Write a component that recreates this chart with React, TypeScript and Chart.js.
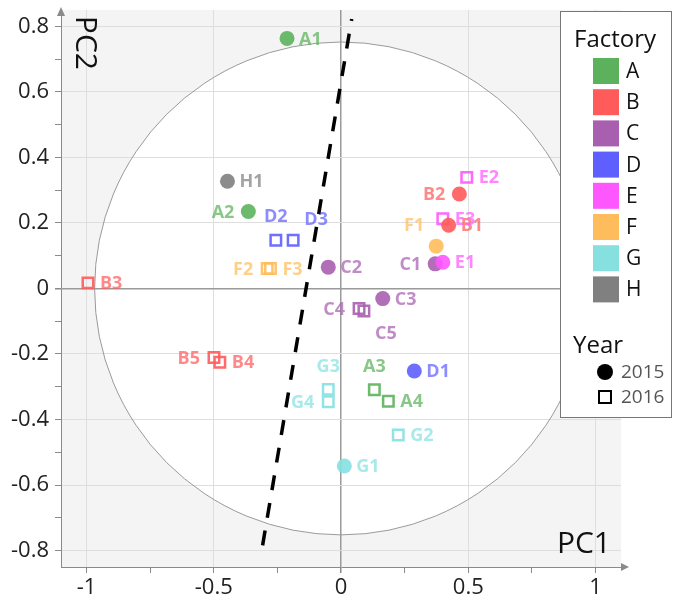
import { useEffect, useRef } from 'react';
import { Chart, registerables } from 'chart.js';

Chart.register(...registerables);

// ---- data ----
const pointNames = ['A1', 'A2', 'A3', 'A4', 'B1', 'B2', 'B3', 'B4', 'B5', 'C1', 'C2', 'C3', 'C4', 'C5', 'D1', 'D2', 'D3', 'E1', 'E2', 'E3', 'F1', 'F2', 'F3', 'G1', 'G2', 'G3', 'G4', 'H1'];
const pc1Values = [-0.212, -0.364, 0.131, 0.186, 0.423, 0.465, -0.994, -0.476, -0.499, 0.37, -0.05, 0.164, 0.071, 0.09, 0.288, -0.256, -0.188, 0.4, 0.494, 0.4, 0.374, -0.29, -0.277, 0.013, 0.225, -0.05, -0.05, -0.446];
const pc2Values = [0.763, 0.235, -0.309, -0.344, 0.193, 0.288, 0.017, -0.225, -0.211, 0.075, 0.065, -0.031, -0.061, -0.069, -0.252, 0.147, 0.147, 0.08, 0.339, 0.213, 0.129, 0.061, 0.061, -0.542, -0.447, -0.308, -0.346, 0.327];
const yearValues = [2015, 2015, 2016, 2016, 2015, 2015, 2016, 2016, 2016, 2015, 2015, 2015, 2016, 2016, 2015, 2016, 2016, 2015, 2016, 2016, 2015, 2016, 2016, 2015, 2016, 2016, 2016, 2015];
const factories = ['A', 'B', 'C', 'D', 'E', 'F', 'G', 'H'];
const years = [2015, 2016];
const xTickValues = [-1, -0.75, -0.5, -0.25, 0, 0.25, 0.5, 0.75, 1];
const xTickLabels = ['-1', '', '-0.5', '', '0', '', '0.5', '', '1'];
const yTickValues = [0.8, 0.7, 0.6, 0.5, 0.4, 0.3, 0.2, 0.1, 0, -0.1, -0.2, -0.3, -0.4, -0.5, -0.6, -0.7, -0.8];
const yTickLabels = ['0.8', '', '0.6', '', '0.4', '', '0.2', '', '0', '', '-0.2', '', '-0.4', '', '-0.6', '', '-0.8'];
const boundaryPc1 = [-0.308, 0.042];
const boundaryPc2 = [-0.784, 0.822];
const circleRadiusPc1 = 0.968;
const circleRadiusPc2 = 0.752;

// ---- styles ----
const factoryColors: Record<string, [number, number, number]> = {
  A: [92, 178, 92],
  B: [255, 91, 91],
  C: [168, 95, 176],
  D: [95, 95, 255],
  E: [255, 87, 255],
  F: [255, 188, 92],
  G: [134, 224, 224],
  H: [128, 128, 128],
};
const rgba = (f: string, a: number) => {
  const c = factoryColors[f];
  return `rgba(${c[0]},${c[1]},${c[2]},${a})`;
};
const labelPlacement: Record<string, string> = {
  A2: 'l', B2: 'l', B5: 'l', C1: 'l', C4: 'l', F2: 'l', G4: 'l',
  F1: 'tl', D2: 't', D3: 'tr', G3: 't', A3: 't', C5: 'br',
};
const placementOffsets: Record<string, [number, number, CanvasTextAlign]> = {
  r: [12, 0, 'left'],
  l: [-14, 0, 'right'],
  t: [0, -24, 'center'],
  tr: [23, -21, 'center'],
  tl: [-12, -21, 'right'],
  br: [22, 22, 'center'],
};
const FONT = '"Open Sans", "Noto Sans", sans-serif';

const tickIndex = (arr: number[], v: number) => arr.findIndex((t) => Math.abs(t - v) < 1e-6);
const isMajor = (arr: number[], labels: string[], v: number) => {
  const i = tickIndex(arr, v);
  return i >= 0 && labels[i] !== '';
};

const backgroundPlugin = {
  id: 'bgCircle',
  beforeDraw(chart: any) {
    const { ctx, chartArea, scales } = chart;
    const x = scales.x, y = scales.y;
    ctx.save();
    ctx.fillStyle = '#f4f4f4';
    ctx.fillRect(chartArea.left, chartArea.top, chartArea.right - chartArea.left, chartArea.bottom - chartArea.top);
    const cx = x.getPixelForValue(0), cy = y.getPixelForValue(0);
    const rx = x.getPixelForValue(circleRadiusPc1) - cx;
    const ry = cy - y.getPixelForValue(circleRadiusPc2);
    ctx.beginPath();
    ctx.rect(chartArea.left, chartArea.top, chartArea.right - chartArea.left, chartArea.bottom - chartArea.top);
    ctx.clip();
    ctx.beginPath();
    ctx.ellipse(cx, cy, rx, ry, 0, 0, Math.PI * 2);
    ctx.fillStyle = '#ffffff';
    ctx.fill();
    ctx.restore();
  },
  beforeDatasetsDraw(chart: any) {
    const { ctx, chartArea, scales } = chart;
    const x = scales.x, y = scales.y;
    ctx.save();
    ctx.beginPath();
    ctx.rect(chartArea.left, chartArea.top, chartArea.right - chartArea.left, chartArea.bottom - chartArea.top);
    ctx.clip();
    const cx = x.getPixelForValue(0), cy = y.getPixelForValue(0);
    const rx = x.getPixelForValue(circleRadiusPc1) - cx;
    const ry = cy - y.getPixelForValue(circleRadiusPc2);
    ctx.beginPath();
    ctx.ellipse(cx, cy, rx, ry, 0, 0, Math.PI * 2);
    ctx.strokeStyle = '#9a9a9a';
    ctx.lineWidth = 1;
    ctx.stroke();
    ctx.restore();

    // point labels
    ctx.save();
    ctx.font = `bold 18px ${FONT}`;
    ctx.textBaseline = 'middle';
    pointNames.forEach((name, i) => {
      const px = x.getPixelForValue(pc1Values[i]);
      const py = y.getPixelForValue(pc2Values[i]);
      const [dx, dy, align] = placementOffsets[labelPlacement[name] || 'r'];
      ctx.textAlign = align;
      ctx.fillStyle = rgba(name[0], 0.72);
      ctx.fillText(name, px + dx, py + dy + 1);
    });
    ctx.restore();
  },
  afterDraw(chart: any) {
    const { ctx, chartArea } = chart;
    ctx.save();
    // axis arrows
    ctx.fillStyle = '#8a8a8a';
    ctx.beginPath();
    ctx.moveTo(chartArea.right, chartArea.bottom - 4);
    ctx.lineTo(chartArea.right + 8, chartArea.bottom);
    ctx.lineTo(chartArea.right, chartArea.bottom + 4);
    ctx.closePath();
    ctx.fill();
    ctx.beginPath();
    ctx.moveTo(chartArea.left - 4, chartArea.top + 6);
    ctx.lineTo(chartArea.left, chartArea.top - 3);
    ctx.lineTo(chartArea.left + 4, chartArea.top + 6);
    ctx.closePath();
    ctx.fill();

    // axis titles
    ctx.fillStyle = '#111';
    ctx.font = `30px ${FONT}`;
    ctx.textAlign = 'right';
    ctx.textBaseline = 'alphabetic';
    ctx.fillText('PC1', chartArea.right - 10, chartArea.bottom - 14);
    ctx.save();
    ctx.translate(chartArea.left + 15, chartArea.top + 33);
    ctx.rotate(Math.PI / 2);
    ctx.textAlign = 'center';
    ctx.fillText('PC2', 0, 0);
    ctx.restore();

    // legend
    const lx = 560.5, ly = 11.5, lw = 111, lh = 406;
    ctx.fillStyle = '#ffffff';
    ctx.fillRect(lx, ly, lw, lh);
    ctx.strokeStyle = '#777';
    ctx.lineWidth = 1;
    ctx.strokeRect(lx, ly, lw, lh);
    ctx.fillStyle = '#111';
    ctx.textAlign = 'left';
    ctx.textBaseline = 'alphabetic';
    ctx.font = `24px ${FONT}`;
    ctx.fillText('Factory', 574, 47);
    ctx.font = `21px ${FONT}`;
    ctx.textBaseline = 'middle';
    factories.forEach((f, i) => {
      const cy = 71 + i * 31.2;
      ctx.fillStyle = rgba(f, 1);
      ctx.fillRect(593, cy - 13, 26, 26);
      ctx.fillStyle = '#111';
      ctx.fillText(f, 626, cy + 1);
    });
    ctx.textBaseline = 'alphabetic';
    ctx.font = `24px ${FONT}`;
    ctx.fillText('Year', 573, 353);
    ctx.font = `19px ${FONT}`;
    ctx.textBaseline = 'middle';
    years.forEach((yr, i) => {
      const cy = 372 + i * 25;
      ctx.fillStyle = '#000';
      ctx.strokeStyle = '#000';
      if (i === 0) {
        ctx.beginPath();
        ctx.arc(605, cy, 8, 0, Math.PI * 2);
        ctx.fill();
      } else {
        ctx.lineWidth = 2;
        ctx.strokeRect(599, cy - 6, 12, 12);
      }
      ctx.fillStyle = '#555';
      ctx.fillText(String(yr), 621, cy + 1);
    });
    ctx.restore();
  },
};

const gridColor = (arr: number[], labels: string[]) => (c: any) => {
  const v = c.tick ? c.tick.value : 1;
  if (Math.abs(v) < 1e-6) return '#9a9a9a';
  return isMajor(arr, labels, v) ? '#dedede' : 'rgba(0,0,0,0)';
};

export default function App() {
  const canvasRef = useRef<HTMLCanvasElement | null>(null);

  useEffect(() => {
    if (!canvasRef.current) return;
    const idxFor = (yr: number) => pointNames.map((_, i) => i).filter((i) => yearValues[i] === yr);
    const i15 = idxFor(2015);
    const i16 = idxFor(2016);

    const chart = new Chart(canvasRef.current, {
      type: 'scatter',
      data: {
        datasets: [
          {
            type: 'line',
            label: 'boundary',
            data: boundaryPc1.map((v, i) => ({ x: v, y: boundaryPc2[i] })),
            borderColor: '#000',
            borderWidth: 3.5,
            borderDash: [15, 13],
            pointRadius: 0,
            fill: false,
            order: -1,
          } as any,
          {
            label: '2015',
            data: i15.map((i) => ({ x: pc1Values[i], y: pc2Values[i] })),
            pointStyle: 'circle',
            pointRadius: 7.5,
            pointBorderWidth: 0,
            pointBackgroundColor: i15.map((i) => rgba(pointNames[i][0], 0.9)),
            pointBorderColor: 'rgba(0,0,0,0)',
            order: 0,
          },
          {
            label: '2016',
            data: i16.map((i) => ({ x: pc1Values[i], y: pc2Values[i] })),
            pointStyle: 'rect',
            pointRadius: 7.4,
            pointBorderWidth: 2.5,
            pointBackgroundColor: 'rgba(0,0,0,0)',
            pointBorderColor: i16.map((i) => rgba(pointNames[i][0], 0.9)),
            order: 1,
          },
        ],
      },
      options: {
        responsive: false,
        animation: false,
        events: [],
        layout: { padding: { top: 5, right: 52, left: 0, bottom: 0 } },
        plugins: { legend: { display: false }, tooltip: { enabled: false } },
        scales: {
          x: {
            type: 'linear',
            min: -1.1,
            max: 1.1,
            afterBuildTicks: (s: any) => { s.ticks = xTickValues.map((v) => ({ value: v })); },
            afterFit: (s: any) => { s.height = 36; s.paddingLeft = 0; s.paddingRight = 0; },
            ticks: {
              autoSkip: false,
              maxRotation: 0,
              padding: 2,
              color: '#222',
              font: { family: FONT, size: 22 },
              callback: (v: any) => {
                const i = tickIndex(xTickValues, Number(v));
                return i >= 0 ? xTickLabels[i] : '';
              },
            },
            grid: {
              drawTicks: true,
              tickLength: 6,
              tickColor: '#8a8a8a',
              lineWidth: (c: any) => (c.tick && Math.abs(c.tick.value) < 1e-6 ? 1.5 : 1),
              color: gridColor(xTickValues, xTickLabels),
            },
            border: { display: true, color: '#8a8a8a', width: 1 },
          },
          y: {
            type: 'linear',
            min: -0.85,
            max: 0.85,
            afterBuildTicks: (s: any) => { s.ticks = yTickValues.map((v) => ({ value: v })); },
            afterFit: (s: any) => { s.width = 61; s.paddingTop = 0; s.paddingBottom = 0; },
            ticks: {
              autoSkip: false,
              padding: 6,
              color: '#222',
              font: { family: FONT, size: 22 },
              callback: (v: any) => {
                const i = tickIndex(yTickValues, Number(v));
                return i >= 0 ? yTickLabels[i] : '';
              },
            },
            grid: {
              drawTicks: true,
              tickLength: 6,
              tickColor: '#8a8a8a',
              lineWidth: (c: any) => (c.tick && Math.abs(c.tick.value) < 1e-6 ? 1.5 : 1),
              color: gridColor(yTickValues, yTickLabels),
            },
            border: { display: true, color: '#8a8a8a', width: 1 },
          },
        },
      },
      plugins: [backgroundPlugin],
    });
    return () => chart.destroy();
  }, []);

  return (
    <div style={{ position: 'absolute', left: 0, top: 0, width: 673, height: 603, background: '#fff' }}>
      <canvas ref={canvasRef} width={673} height={603} style={{ display: 'block' }} />
    </div>
  );
}
